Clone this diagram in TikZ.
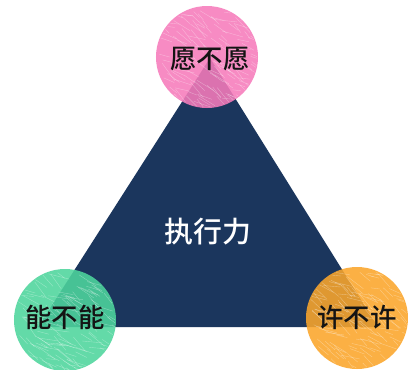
\documentclass[tikz,border=0pt]{standalone}
\usepackage{fontspec}
\newfontfamily\cjk{Noto Sans CJK SC Medium}
\newfontfamily\cjkbold{Noto Sans CJK SC Bold}
\definecolor{navy}{HTML}{1B365D}
\definecolor{pinkc}{HTML}{F67BBB}
\definecolor{greenc}{HTML}{4ED69D}
\definecolor{orangec}{HTML}{FBA62B}
\tikzset{
  ball/.style={circle, minimum size=102bp, inner sep=0pt, fill=#1, fill opacity=0.88, text opacity=1},
  balltext/.style={font=\cjk\fontsize{26.5}{26.5}\selectfont, text=black!92},
}
\newcommand{\scribble}[2]{%
  \begin{scope}
    \clip (#1) circle (50bp);
    \pgfmathsetseed{#2}
    \foreach \i in {1,...,140}{
      \pgfmathsetmacro{\ax}{rand*48}
      \pgfmathsetmacro{\ay}{rand*48}
      \pgfmathsetmacro{\ang}{30+rand*25}
      \pgfmathsetmacro{\len}{8+rnd*14}
      \draw[white, opacity=0.35, line width=0.4bp] ($(#1)+(\ax,\ay)$) -- ++(\ang:\len);
    }
  \end{scope}}
\usetikzlibrary{calc}
\begin{document}
\begin{tikzpicture}[x=1bp,y=-1bp]
  \useasboundingbox (0,0) rectangle (408,370);
  \fill[white] (0,0) rectangle (408,370);
  \coordinate (apex) at (210,58);
  \coordinate (bl) at (38,327);
  \coordinate (br) at (378,327);
  \fill[navy] (apex) -- (bl) -- (br) -- cycle;
  \node[ball=pinkc] (top) at (207,57) {};
  \node[ball=greenc] (left) at (65,320) {};
  \node[ball=orangec] (right) at (357,318) {};
  \scribble{top}{11}
  \scribble{left}{23}
  \scribble{right}{37}
  \node[balltext] at (210,59) {愿不愿};
  \node[balltext] at (65,317) {能不能};
  \node[balltext] at (357,317) {许不许};
  \node[font=\cjk\fontsize{29}{29}\selectfont, text=white] (center) at (208,232) {执行力};
\end{tikzpicture}
\end{document}
